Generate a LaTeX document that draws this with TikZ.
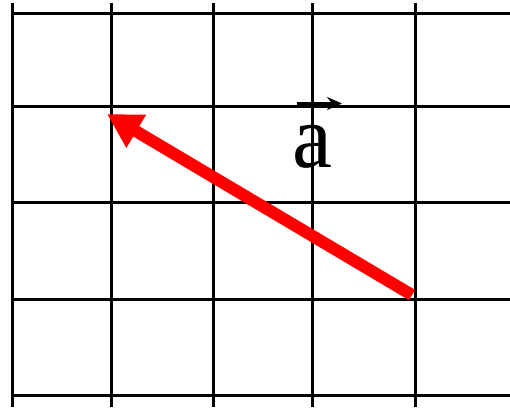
\documentclass[tikz,border=0pt]{standalone}
\usepackage{fontspec}
\setmainfont{Liberation Serif}
\usetikzlibrary{arrows.meta}
\tikzset{
  gridline/.style={line width=3pt, black},
  vecarrow/.style={line width=12pt, red, -{Triangle[length=34pt,width=36pt]}},
  labelarrow/.style={line width=2.5pt, black, -{Stealth[length=15pt,width=13pt]}},
  lbl/.style={inner sep=0pt, font=\fontsize{90}{90}\selectfont}
}
\begin{document}
\begin{tikzpicture}[x=1pt,y=-1pt]
\useasboundingbox (0,0) rectangle (510,407);
\fill[white] (0,0) rectangle (510,407);
% vertical grid lines
\foreach \xx in {12.3,111.3,213.3,312.7,415.3}
  \draw[gridline] (\xx,3) -- (\xx,407);
% horizontal grid lines
\foreach \yy in {13.3,106.3,202,299,395.3}
  \draw[gridline] (10.8,\yy) -- (510,\yy);
% vector
\coordinate (s) at (412,295);
\coordinate (t) at (107,114);
\draw[vecarrow] (s) -- (t);
% label
\node[lbl, anchor=base west] (a) at (292,167) {a};
\coordinate (al) at (297,103.5);
\coordinate (ar) at (342,103.5);
\draw[labelarrow] (al) -- (ar);
\end{tikzpicture}
\end{document}
